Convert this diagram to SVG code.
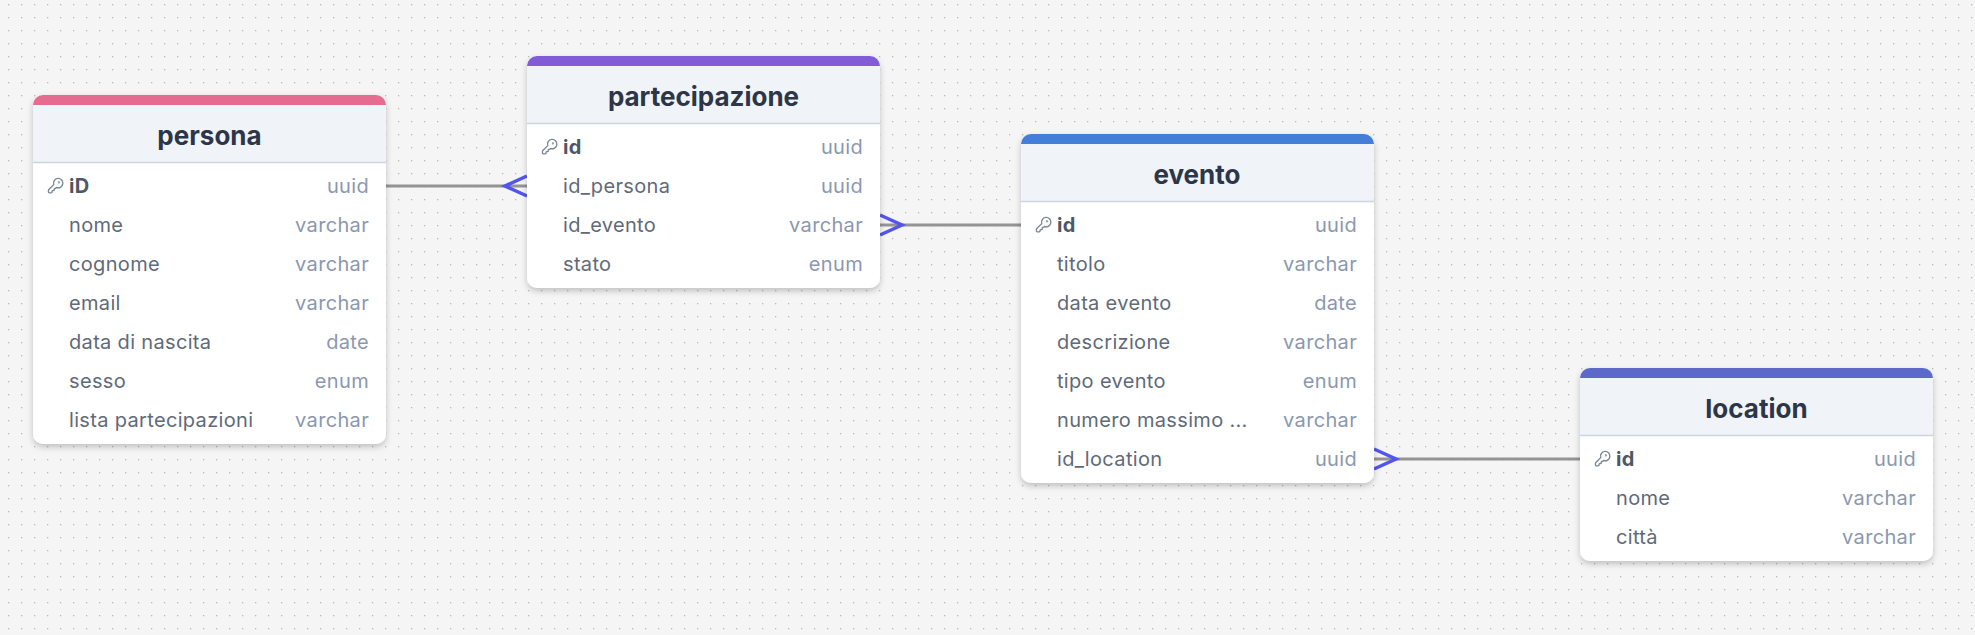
<svg xmlns="http://www.w3.org/2000/svg" width="1975" height="635" viewBox="0 0 1975 635">
<style>
text{font-family:Inter,"Liberation Sans",sans-serif}
.t{font-size:26px;font-weight:700;fill:#2d3648;text-anchor:middle}
.n{font-size:20px;fill:#5f6a7a;letter-spacing:.33px}
.k{font-size:20px;font-weight:700;fill:#4c5767;letter-spacing:.33px}
.y{font-size:20px;fill:#8b98b1;text-anchor:end;letter-spacing:.33px}
.card{fill:#fff}
.head{fill:#f0f3f8}
.sep{stroke:#cbd5e1;stroke-width:1.3}
.rel{stroke:#949494;stroke-width:3;fill:none}
.crow{stroke:#5455ee;stroke-width:3.500;fill:none}
.key{fill:none;stroke:#7b8698;stroke-width:1.9;stroke-linecap:round;stroke-linejoin:round}
</style>
<defs>
<pattern id="dots" width="13" height="13" patternUnits="userSpaceOnUse" x="2" y="-2"><rect x="6" y="6" width="1.300" height="1.300" fill="#b8b8b8"/></pattern>
<filter id="sh" x="-10%" y="-10%" width="120%" height="120%"><feDropShadow dx="0" dy="3" stdDeviation="3" flood-color="#000" flood-opacity="0.22"/></filter>
<g id="kicon" class="key" transform="scale(0.72)"><path d="M2.586 17.414A2 2 0 0 0 2 18.828V21a1 1 0 0 0 1 1h3a1 1 0 0 0 1-1v-1a1 1 0 0 1 1-1h1a1 1 0 0 0 1-1v-1a1 1 0 0 1 1-1h.172a2 2 0 0 0 1.414-.586l.814-.814a6.500 6.500 0 1 0-4-4z"/><circle cx="16.500" cy="7.500" r=".5"/></g>
</defs>
<rect width="1975" height="635" fill="#f5f5f5"/>
<rect width="1975" height="635" fill="url(#dots)"/>
<g id="connectors">
<path class="rel" d="M386 186H527"/><path class="crow" d="M527 176L505 186L527 196"/>
<path class="rel" d="M880 225H1021"/><path class="crow" d="M880 215L902 225L880 235"/>
<path class="rel" d="M1374 459H1580"/><path class="crow" d="M1374 449L1396 459L1374 469"/>
</g>
<g id="persona">
<rect class="card" x="33" y="95" width="353" height="349" rx="10" filter="url(#sh)"/>
<path class="head" d="M33 105H386V162H33Z"/><path d="M33 105V105A10 10 0 0 1 43 95H376A10 10 0 0 1 386 105Z" fill="#e56b8f"/><path class="sep" d="M33 162.500H386"/>
<text class="t" x="209.500" y="145">persona</text>
<use href="#kicon" x="47" y="177"/>
<text class="k" x="69" y="193">iD</text><text class="y" x="369" y="193">uuid</text>
<text class="n" x="69" y="232">nome</text><text class="y" x="369" y="232">varchar</text>
<text class="n" x="69" y="271">cognome</text><text class="y" x="369" y="271">varchar</text>
<text class="n" x="69" y="310">email</text><text class="y" x="369" y="310">varchar</text>
<text class="n" x="69" y="349">data di nascita</text><text class="y" x="369" y="349">date</text>
<text class="n" x="69" y="388">sesso</text><text class="y" x="369" y="388">enum</text>
<text class="n" x="69" y="427">lista partecipazioni</text><text class="y" x="369" y="427">varchar</text>
</g>
<g id="partecipazione">
<rect class="card" x="527" y="56" width="353" height="232" rx="10" filter="url(#sh)"/>
<path class="head" d="M527 66H880V123H527Z"/><path d="M527 66A10 10 0 0 1 537 56H870A10 10 0 0 1 880 66Z" fill="#825cd6"/><path class="sep" d="M527 123.500H880"/>
<text class="t" x="703.500" y="106">partecipazione</text>
<use href="#kicon" x="541" y="138"/>
<text class="k" x="563" y="154">id</text><text class="y" x="863" y="154">uuid</text>
<text class="n" x="563" y="193">id_persona</text><text class="y" x="863" y="193">uuid</text>
<text class="n" x="563" y="232">id_evento</text><text class="y" x="863" y="232">varchar</text>
<text class="n" x="563" y="271">stato</text><text class="y" x="863" y="271">enum</text>
</g>
<g id="evento">
<rect class="card" x="1021" y="134" width="353" height="349" rx="10" filter="url(#sh)"/>
<path class="head" d="M1021 144H1374V201H1021Z"/><path d="M1021 144A10 10 0 0 1 1031 134H1364A10 10 0 0 1 1374 144Z" fill="#437fd9"/><path class="sep" d="M1021 201.500H1374"/>
<text class="t" x="1197" y="184">evento</text>
<use href="#kicon" x="1035" y="216"/>
<text class="k" x="1057" y="232">id</text><text class="y" x="1357" y="232">uuid</text>
<text class="n" x="1057" y="271">titolo</text><text class="y" x="1357" y="271">varchar</text>
<text class="n" x="1057" y="310">data evento</text><text class="y" x="1357" y="310">date</text>
<text class="n" x="1057" y="349">descrizione</text><text class="y" x="1357" y="349">varchar</text>
<text class="n" x="1057" y="388">tipo evento</text><text class="y" x="1357" y="388">enum</text>
<text class="n" x="1057" y="427">numero massimo ...</text><text class="y" x="1357" y="427">varchar</text>
<text class="n" x="1057" y="466">id_location</text><text class="y" x="1357" y="466">uuid</text>
</g>
<g id="location">
<rect class="card" x="1580" y="368" width="353" height="193" rx="10" filter="url(#sh)"/>
<path class="head" d="M1580 378H1933V435H1580Z"/><path d="M1580 378A10 10 0 0 1 1590 368H1923A10 10 0 0 1 1933 378Z" fill="#5d69c9"/><path class="sep" d="M1580 435.500H1933"/>
<text class="t" x="1756.500" y="418">location</text>
<use href="#kicon" x="1594" y="450"/>
<text class="k" x="1616" y="466">id</text><text class="y" x="1916" y="466">uuid</text>
<text class="n" x="1616" y="505">nome</text><text class="y" x="1916" y="505">varchar</text>
<text class="n" x="1616" y="544">città</text><text class="y" x="1916" y="544">varchar</text>
</g>
</svg>
